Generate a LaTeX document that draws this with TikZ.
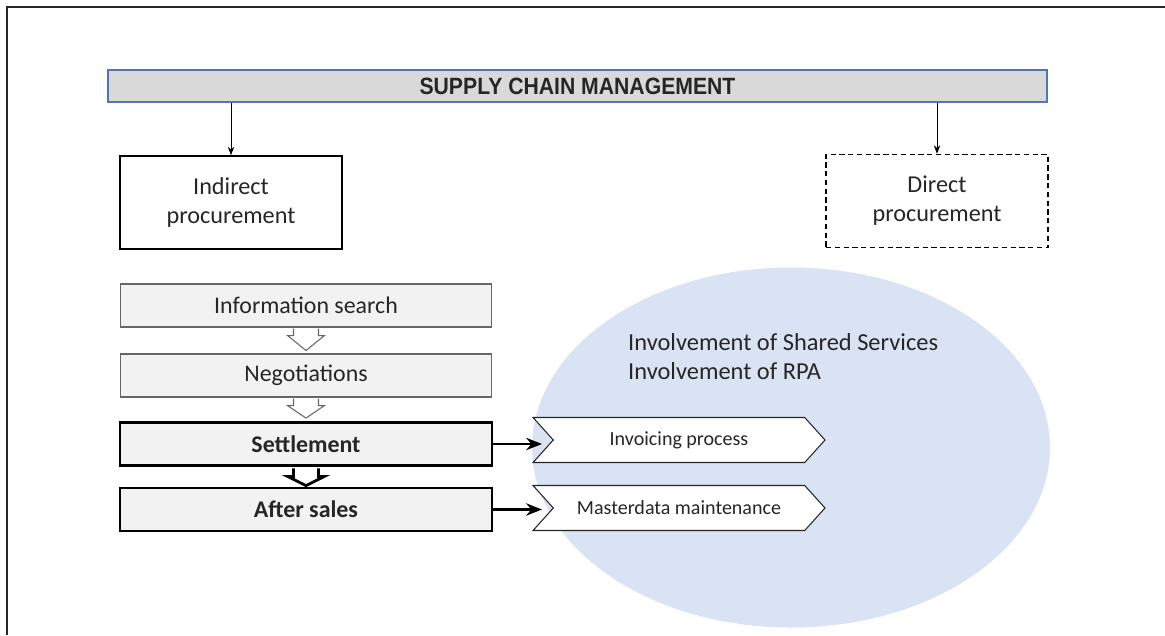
\documentclass[tikz,border=0pt]{standalone}
\usepackage{fontspec,graphicx}
\setmainfont{Carlito}
\newfontfamily\headfont{Liberation Sans}
\usetikzlibrary{arrows.meta,positioning,calc,shapes.symbols}
\definecolor{ink}{HTML}{262626}
\definecolor{bandfill}{HTML}{D9D9D9}
\definecolor{bandline}{HTML}{4F74B8}
\definecolor{stepfill}{HTML}{F2F2F2}
\definecolor{cloud}{HTML}{DAE3F3}

\tikzset{
  procbox/.style={draw=black,line width=0.9pt,minimum width=4.44cm,minimum height=1.86cm,
    align=center,text=ink,font=\fontsize{13.8}{16.4}\selectfont},
  stepbox/.style={draw=gray!80!black,line width=0.6pt,fill=stepfill,minimum width=7.44cm,
    minimum height=0.86cm,text=ink,font=\fontsize{13.6}{16}\selectfont},
  keystep/.style={stepbox,draw=black,line width=1.6pt,font=\fontsize{13.6}{16}\selectfont\bfseries},
  chevron/.style={signal,signal to=east,signal from=west,signal pointer angle=96,draw=ink,
    line width=0.6pt,fill=white,minimum width=5.84cm,minimum height=0.9cm,text=ink,
    font=\fontsize{11.4}{13}\selectfont},
  hollow/.style={fill=white,draw=gray!80!black,line width=0.6pt},
}

\begin{document}
\begin{tikzpicture}[x=0.02cm,y=-0.02cm,>=Stealth]
\useasboundingbox (0,0) rectangle (1165,635);
% frame (only top and left edge fall inside)
\draw[line width=1.3pt,black!85] (7,635) -- (7,7) -- (1165,7);

% shaded zone behind the outsourced tasks
\fill[cloud] (791,447.5) ellipse [x radius=259,y radius=180];
\node[anchor=west,align=left,text=ink,font=\fontsize{13.9}{16.4}\selectfont] (inv) at (622,357)
  {Involvement of Shared Services\\Involvement of RPA};

% top band
\node[draw=bandline,line width=1pt,fill=bandfill,minimum width=18.78cm,minimum height=0.64cm,
  text=ink] (scm) at (577.5,86)
  {\headfont\bfseries\fontsize{13.4}{16}\selectfont\scalebox{0.9}[1]{SUPPLY CHAIN MANAGEMENT}};

\node[procbox] (indirect) at (231,202.5) {Indirect\\procurement};
\node[procbox,dashed,dash pattern=on 3pt off 2pt] (direct) at (937,201) {Direct\\procurement};
\draw[->,thin] (scm.south -| indirect.north) -- (indirect.north);
\draw[->,thin] (scm.south -| direct.north) -- (direct.north);

% procurement steps
\node[stepbox] (search) at (306,305.5) {Information search};
\node[stepbox] (nego) at (306,375.5) {Negotiations};
\node[keystep] (settle) at (306,444) {Settlement};
\node[keystep] (after) at (306,509.5) {After sales};

\foreach \a/\b in {search/nego,nego/settle}
  \draw[hollow] ($(\a.south)+(-12.5,1)$) -- ++(0,7) -- ++(-6,0) -- ($(\b.north)+(0,-3)$)
    -- ($(\a.south)+(18.5,8)$) -- ++(-6,0) -- ++(0,-7);
\draw[hollow,draw=black,line width=1.6pt] ($(settle.south)+(-12.5,1.5)$) -- ++(0,8) -- ++(-6,0)
  -- ($(after.north)+(0,-1)$) -- ($(settle.south)+(18.5,9.5)$) -- ++(-6,0) -- ++(0,-8);

% tasks handed over
\node[chevron] (invoice) at (679,440) {Invoicing process};
\node[chevron] (master) at (679,508) {Masterdata maintenance};
\coordinate (toinv) at (settle.east -| 542,0);
\coordinate (tomaster) at (after.east -| 542,0);
\draw[-{Stealth[length=9pt,width=7pt]},line width=1.7pt] (settle.east) -- (toinv);
\draw[-{Stealth[length=9pt,width=7pt]},line width=1.7pt] (after.east) -- (tomaster);
\end{tikzpicture}
\end{document}
